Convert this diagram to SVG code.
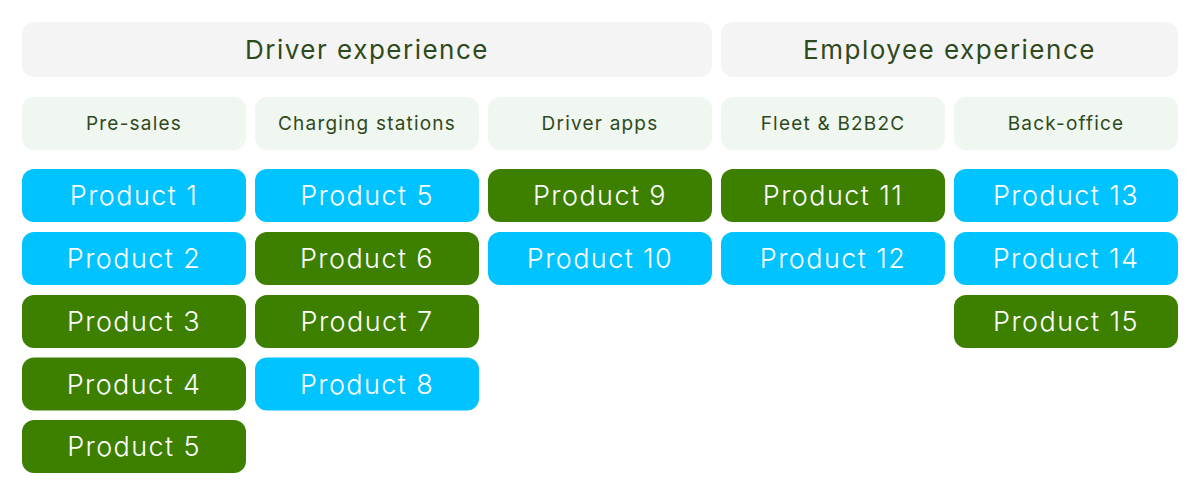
<svg xmlns="http://www.w3.org/2000/svg" width="1200" height="497" viewBox="0 0 1200 497">
<style>
.hdr{fill:#f4f4f4}
.sub{fill:#f0f6f0}
.blue{fill:#00c3ff}
.green{fill:#3d8000}
.ht{font-family:Inter,"Open Sans",sans-serif;font-size:26px;fill:#2e4a1c;text-anchor:middle;dominant-baseline:central;letter-spacing:1.5px}
.st{font-family:Inter,"Open Sans",sans-serif;font-size:19px;fill:#2e4a1c;text-anchor:middle;dominant-baseline:central;letter-spacing:1.2px}
.pt{font-family:Inter,"Open Sans",sans-serif;font-size:27px;font-weight:300;fill:#ffffff;text-anchor:middle;dominant-baseline:central;letter-spacing:1.4px}
</style>
<rect width="1200" height="497" fill="#ffffff"/>
<g id="driver-experience"><rect class="hdr" x="22" y="22" width="690" height="55" rx="12"/><text class="ht" x="367" y="49.5">Driver experience</text></g>
<g id="employee-experience"><rect class="hdr" x="721" y="22" width="457" height="55" rx="12"/><text class="ht" x="949.5" y="49.5">Employee experience</text></g>
<g id="pre-sales"><rect class="sub" x="22" y="97" width="224" height="53" rx="12"/><text class="st" x="134" y="123.5">Pre-sales</text></g>
<g id="charging-stations"><rect class="sub" x="255" y="97" width="224" height="53" rx="12"/><text class="st" x="367" y="123.5">Charging stations</text></g>
<g id="driver-apps"><rect class="sub" x="488" y="97" width="224" height="53" rx="12"/><text class="st" x="600" y="123.5">Driver apps</text></g>
<g id="fleet"><rect class="sub" x="721" y="97" width="224" height="53" rx="12"/><text class="st" x="833" y="123.5">Fleet &amp; B2B2C</text></g>
<g id="back-office"><rect class="sub" x="954" y="97" width="224" height="53" rx="12"/><text class="st" x="1066" y="123.5">Back-office</text></g>
<g id="p1"><rect class="blue" x="22" y="169" width="224" height="53" rx="12"/><text class="pt" x="134" y="195.5">Product 1</text></g>
<g id="p2"><rect class="blue" x="22" y="232" width="224" height="53" rx="12"/><text class="pt" x="134" y="258.5">Product 2</text></g>
<g id="p3"><rect class="green" x="22" y="295" width="224" height="53" rx="12"/><text class="pt" x="134" y="321.5">Product 3</text></g>
<g id="p4"><rect class="green" x="22" y="357.5" width="224" height="53" rx="12"/><text class="pt" x="134" y="384">Product 4</text></g>
<g id="p5a"><rect class="green" x="22" y="420" width="224" height="53" rx="12"/><text class="pt" x="134" y="446.5">Product 5</text></g>
<g id="p5b"><rect class="blue" x="255" y="169" width="224" height="53" rx="12"/><text class="pt" x="367" y="195.5">Product 5</text></g>
<g id="p6"><rect class="green" x="255" y="232" width="224" height="53" rx="12"/><text class="pt" x="367" y="258.5">Product 6</text></g>
<g id="p7"><rect class="green" x="255" y="295" width="224" height="53" rx="12"/><text class="pt" x="367" y="321.5">Product 7</text></g>
<g id="p8"><rect class="blue" x="255" y="357.5" width="224" height="53" rx="12"/><text class="pt" x="367" y="384">Product 8</text></g>
<g id="p9"><rect class="green" x="488" y="169" width="224" height="53" rx="12"/><text class="pt" x="600" y="195.5">Product 9</text></g>
<g id="p10"><rect class="blue" x="488" y="232" width="224" height="53" rx="12"/><text class="pt" x="600" y="258.5">Product 10</text></g>
<g id="p11"><rect class="green" x="721" y="169" width="224" height="53" rx="12"/><text class="pt" x="833" y="195.5">Product 11</text></g>
<g id="p12"><rect class="blue" x="721" y="232" width="224" height="53" rx="12"/><text class="pt" x="833" y="258.5">Product 12</text></g>
<g id="p13"><rect class="blue" x="954" y="169" width="224" height="53" rx="12"/><text class="pt" x="1066" y="195.5">Product 13</text></g>
<g id="p14"><rect class="blue" x="954" y="232" width="224" height="53" rx="12"/><text class="pt" x="1066" y="258.5">Product 14</text></g>
<g id="p15"><rect class="green" x="954" y="295" width="224" height="53" rx="12"/><text class="pt" x="1066" y="321.5">Product 15</text></g>
<g id="connectors"/>
</svg>
